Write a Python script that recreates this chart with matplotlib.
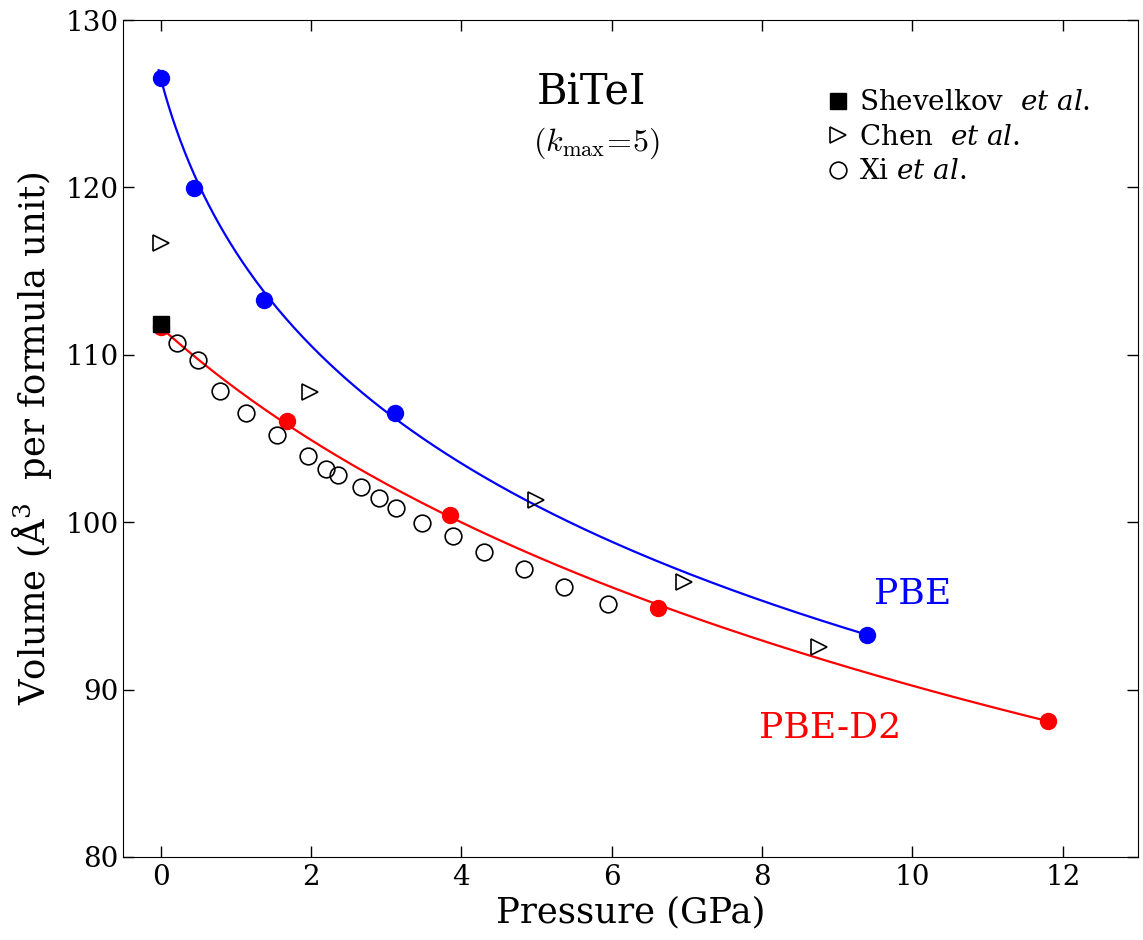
import numpy as np
import matplotlib
matplotlib.use('Agg')
import matplotlib.pyplot as plt

# Calculated volumes (A^3 per formula unit) vs pressure (GPa)
pbe_p = [0.0, 0.45, 1.38, 3.12, 9.40]
pbe_v = [126.55, 119.95, 113.25, 106.55, 93.25]
d2_p = [0.0, 1.68, 3.85, 6.62, 11.80]
d2_v = [111.65, 106.05, 100.45, 94.90, 88.15]

# Experimental data
shev_p = [0.0]
shev_v = [111.85]
chen_p = [0.0, 1.99, 4.99, 6.96, 8.76]
chen_v = [116.65, 107.80, 101.30, 96.40, 92.55]
xi_p = [0.22, 0.50, 0.79, 1.14, 1.55, 1.96, 2.20, 2.36, 2.66, 2.90, 3.13,
        3.48, 3.89, 4.30, 4.83, 5.36, 5.95]
xi_v = [110.70, 109.70, 107.85, 106.50, 105.20, 103.95, 103.20, 102.80,
        102.10, 101.45, 100.85, 99.95, 99.15, 98.25, 97.20, 96.10, 95.10]

plt.rcParams['font.family'] = 'DejaVu Serif'
plt.rcParams['mathtext.fontset'] = 'dejavuserif'


def bm3_fit(p, v):
    """ Third order Birch-Murnaghan fit P(V) with V0 taken from the P=0 point. """
    p = np.asarray(p)
    v = np.asarray(v)
    v0 = v[0]
    f = ((v0 / v) ** (2.0 / 3.0) - 1) / 2
    g = 3 * f * (1 + 2 * f) ** 2.5
    a = np.column_stack([g, 1.5 * f * g])
    coef = np.linalg.lstsq(a, p, rcond=None)[0]

    def pressure(vv) :
        ff = ((v0 / vv) ** (2.0 / 3.0) - 1) / 2
        gg = 3 * ff * (1 + 2 * ff) ** 2.5
        return coef[0] * gg + coef[1] * 1.5 * ff * gg
    return pressure


fig = plt.figure(figsize=(11.43, 9.4), dpi=100)
ax = fig.add_axes([0.1076, 0.0883, 0.888, 0.8904])

pbe_fit = bm3_fit(pbe_p, pbe_v)
vv = np.linspace(127.0, min(pbe_v), 300)
ax.plot(pbe_fit(vv), vv, color='blue', lw=1.6)
d2_fit = bm3_fit(d2_p, d2_v)
vv = np.linspace(max(d2_v), min(d2_v), 300)
ax.plot(d2_fit(vv), vv, color='red', lw=1.6)

ax.plot(pbe_p, pbe_v, 'o', color='blue', mec='blue', ms=11.5)
ax.plot(d2_p, d2_v, 'o', color='red', mec='red', ms=11.5)

sq, = ax.plot(shev_p, shev_v, 's', color='black', ms=12, label=r'Shevelkov  $\mathit{et\ al.}$')
tri, = ax.plot(chen_p, chen_v, '>', mfc='none', mec='black', mew=1.2, ms=12,
               label=r'Chen  $\mathit{et\ al.}$')
cir, = ax.plot(xi_p, xi_v, 'o', mfc='none', mec='black', mew=1.2, ms=12,
               label=r'Xi $\mathit{et\ al.}$')

leg = ax.legend(handles=[sq, tri, cir], loc='upper left', bbox_to_anchor=(0.695, 0.917),
                frameon=False, numpoints=1, fontsize=20, handlelength=0.7,
                handletextpad=0.4, labelspacing=0.27, borderpad=0, borderaxespad=0)

ax.text(5.73, 125.7, 'BiTeI', fontsize=30, ha='center', va='center')
ax.text(5.8, 122.65, r'$(k_{\rm max}\!=\!5)$', fontsize=23, ha='center', va='center',
        math_fontfamily='cm')
ax.text(10.0, 95.7, 'PBE', color='blue', fontsize=26, ha='center', va='center')
ax.text(8.91, 87.7, 'PBE-D2', color='red', fontsize=26, ha='center', va='center')

ax.set_xlim(-0.5, 13)
ax.set_ylim(80, 130)
ax.set_xticks([0, 2, 4, 6, 8, 10, 12])
ax.set_yticks([80, 90, 100, 110, 120, 130])
ax.tick_params(direction='in', top=True, right=True, length=8, width=1, labelsize=20)
ax.tick_params(axis='x', pad=5)
ax.tick_params(axis='y', pad=3)
ax.set_xlabel('Pressure (GPa)', fontsize=25.5, labelpad=3)
ax.set_ylabel('Volume (Å$^3$  per formula unit)', fontsize=25.5, labelpad=8)

fig.savefig('out.png', dpi=100)
